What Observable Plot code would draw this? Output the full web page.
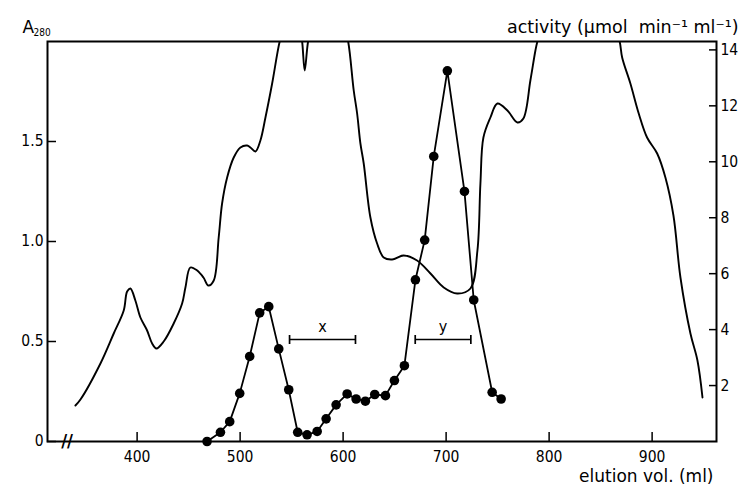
<!DOCTYPE html>
<html>
<head>
<meta charset="utf-8">
<script src="https://cdn.jsdelivr.net/npm/d3@7"></script>
<script src="https://cdn.jsdelivr.net/npm/@observablehq/plot@0.6"></script>
<style>
  html, body { margin: 0; padding: 0; background: white; }
</style>
</head>
<body>
<div id="chart"></div>
<script>
// A280 absorbance trace (elution volume in ml, absorbance); values > 2 run off the top of the frame
const a280Ml = [340.1, 345, 364.4, 377.3, 387, 390.3, 393.5, 398.3, 403.2, 409.7, 414.6, 418.7, 425.8, 435.5, 443.7, 446.9, 451.7, 458.3, 464.4, 469.2, 474.4, 479.2, 482.5, 487.4, 493.8, 500.3, 506.8, 510, 514.9, 519.7, 524.6, 531.1, 538.4, 545, 552, 558, 560.2, 562.7, 566, 570, 585, 600, 604.9, 610.3, 613.6, 616.8, 620, 626.5, 633, 639.4, 647.6, 658.8, 671.8, 684.8, 697.7, 710.7, 723.6, 730.4, 733.3, 736.2, 743, 749.8, 759.5, 769.2, 775, 781.8, 786.7, 788.6, 800, 830, 860, 868.5, 870.9, 878.9, 887, 895.1, 904.9, 912.9, 920.7, 927.5, 937.2, 944, 948.9];
const a280Val = [0.18, 0.21, 0.39, 0.54, 0.655, 0.75, 0.765, 0.705, 0.62, 0.555, 0.49, 0.465, 0.50, 0.59, 0.69, 0.77, 0.87, 0.855, 0.82, 0.78, 0.805, 1.02, 1.19, 1.32, 1.42, 1.47, 1.48, 1.47, 1.45, 1.505, 1.62, 1.79, 2.0, 2.12, 2.15, 2.06, 2.0, 1.855, 2.0, 2.08, 2.2, 2.1, 2.0, 1.755, 1.64, 1.49, 1.39, 1.12, 0.99, 0.92, 0.91, 0.93, 0.905, 0.84, 0.77, 0.74, 0.765, 0.955, 1.29, 1.52, 1.62, 1.69, 1.655, 1.595, 1.615, 1.805, 1.955, 2.0, 2.2, 2.3, 2.15, 2.0, 1.92, 1.79, 1.64, 1.52, 1.44, 1.32, 1.13, 0.82, 0.54, 0.405, 0.22];

// enzyme activity fractions (ml, µmol min-1 ml-1)
const actMl = [467.9, 480.9, 489.9, 499.6, 509.3, 519.0, 527.8, 537.5, 547.2, 555.9, 565.0, 574.8, 583.5, 593.2, 603.9, 612.6, 621.6, 630.7, 641.1, 649.8, 659.5, 670.2, 679.2, 688.0, 701.2, 717.8, 726.8, 744.7, 753.4];
const actVal = [0, 0.33, 0.71, 1.72, 3.04, 4.6, 4.82, 3.31, 1.85, 0.33, 0.24, 0.36, 0.81, 1.31, 1.70, 1.52, 1.44, 1.68, 1.64, 2.18, 2.71, 5.78, 7.20, 10.19, 13.25, 8.94, 5.06, 1.76, 1.52];

// pooled fractions x and y (ml range) drawn at A280 level
const poolLabels = ["x", "y"];
const poolFrom = [548, 670];
const poolTo = [612, 724];
const poolLevel = 0.51;

// axes
const xTicks = [400, 500, 600, 700, 800, 900];
const xDomain = [313, 962.5];
const leftTicks = [0, 0.5, 1.0, 1.5];
const leftMax = 2;
const rightTicks = [2, 4, 6, 8, 10, 12, 14];
const rightMax = 14.3;
const axisBreak = [332];

const k = leftMax / rightMax;
const a280 = a280Ml.map((m, i) => ({ml: m, a: a280Val[i]}));
const act = actMl.map((m, i) => ({ml: m, v: actVal[i] * k}));
const pools = poolLabels.map((l, i) => ({label: l, from: poolFrom[i], to: poolTo[i], mid: (poolFrom[i] + poolTo[i]) / 2, y: poolLevel}));
const capSymbol = { draw(ctx, size) { ctx.moveTo(0, -4.5); ctx.lineTo(0, 4.5); } };

const font = "DejaVu Sans Condensed, DejaVu Sans, sans-serif";
const titleFont = "DejaVu Sans, sans-serif";

const chart = Plot.plot({
  width: 739,
  height: 487,
  marginLeft: 47,
  marginRight: 23,
  marginTop: 41,
  marginBottom: 46,
  x: {domain: xDomain},
  y: {domain: [0, leftMax]},
  style: {fontFamily: font, fontSize: "15px", color: "black", background: "white"},
  marks: [
    Plot.frame({stroke: "black", strokeWidth: 2}),
    Plot.axisX({ticks: xTicks, tickSize: -9, tickPadding: 18, strokeWidth: 1.5, label: null, fontSize: 15.5, tickFormat: d => String(d)}),
    Plot.axisY({anchor: "left", ticks: leftTicks, tickSize: -9, tickPadding: 13, strokeWidth: 1.5, label: null, fontSize: 15.5,
      tickFormat: d => d === 0 ? "0" : d.toFixed(1)}),
    Plot.axisY({anchor: "right", ticks: rightTicks.map(t => t * k), tickSize: -8, tickPadding: 12, strokeWidth: 1.5, label: null, fontSize: 15.5,
      tickFormat: d => String(Math.round(d / k))}),
    Plot.line(a280, {x: "ml", y: "a", curve: "catmull-rom", stroke: "black", strokeWidth: 1.9, clip: true}),
    Plot.line(act, {x: "ml", y: "v", stroke: "black", strokeWidth: 1.8}),
    Plot.dot(act, {x: "ml", y: "v", r: 4.8, fill: "black", stroke: "none"}),
    Plot.link(pools, {x1: "from", x2: "to", y1: "y", y2: "y", stroke: "black", strokeWidth: 1.7}),
    Plot.dot(pools, {x: "from", y: "y", symbol: capSymbol, stroke: "black", strokeWidth: 1.7, fill: "none"}),
    Plot.dot(pools, {x: "to", y: "y", symbol: capSymbol, stroke: "black", strokeWidth: 1.7, fill: "none"}),
    Plot.text(pools, {x: "mid", y: "y", text: "label", dy: -13, fontSize: 16}),
    Plot.text(axisBreak, {x: d => d, y: 0, text: () => "//", fontSize: 18, fontWeight: "bold"}),
    Plot.text(["A"], {frameAnchor: "top-left", dx: -25, dy: -9, lineAnchor: "bottom", textAnchor: "start", fontSize: 17, fontFamily: titleFont}),
    Plot.text(["280"], {frameAnchor: "top-left", dx: -14, dy: -6, lineAnchor: "bottom", textAnchor: "start", fontSize: 10}),
    Plot.text(["activity (\u03bcmol  min\u207b\u00b9 ml\u207b\u00b9)"], {frameAnchor: "top-right", dx: 22, dy: -9, lineAnchor: "bottom", textAnchor: "end", fontSize: 17.5, fontFamily: titleFont}),
    Plot.text(["elution vol. (ml)"], {frameAnchor: "bottom-right", dx: -3, dy: 40, lineAnchor: "bottom", textAnchor: "end", fontSize: 17, fontFamily: titleFont})
  ]
});
document.getElementById("chart").appendChild(chart);
</script>
</body>
</html>
